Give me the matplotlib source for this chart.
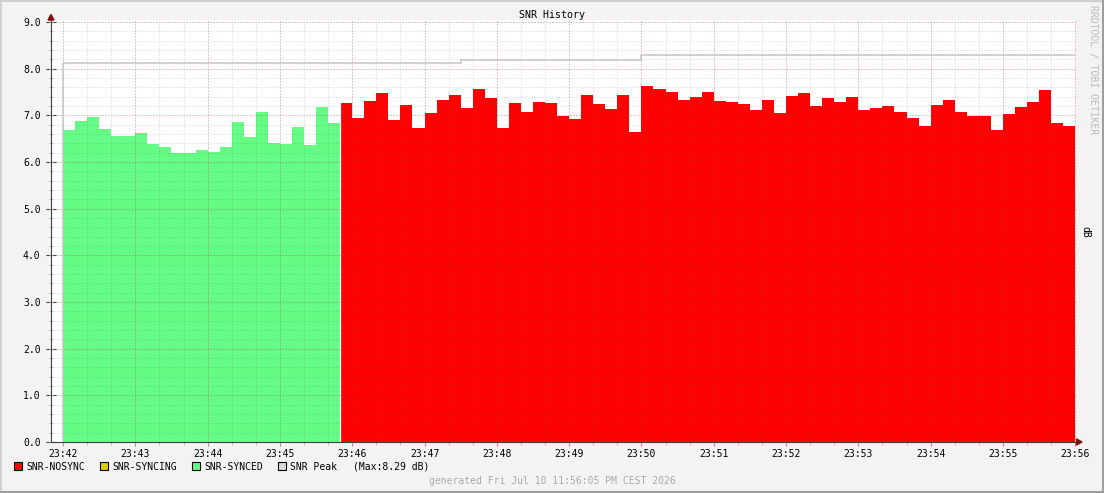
import numpy as np
import matplotlib
matplotlib.use('Agg')
import matplotlib.pyplot as plt
from matplotlib.patches import Rectangle, Polygon
from matplotlib.lines import Line2D

# ---------------------------------------------------------------
# dados (amostras de 10 s a partir das 23:42)
# ---------------------------------------------------------------
step_min = 10 / 60.0

snr_synced = [6.69, 6.88, 6.96, 6.71, 6.56, 6.56, 6.62, 6.39, 6.32, 6.19,
              6.19, 6.26, 6.21, 6.32, 6.86, 6.54, 7.07, 6.41, 6.39, 6.75,
              6.36, 7.18, 6.84]

snr_nosync = [7.26, 6.94, 7.31, 7.48, 6.90, 7.22, 6.73, 7.05, 7.33, 7.44,
              7.16, 7.56, 7.37, 6.73, 7.26, 7.07, 7.29, 7.26, 6.99, 6.92,
              7.44, 7.24, 7.14, 7.44, 6.64, 7.63, 7.56, 7.50, 7.33, 7.39,
              7.50, 7.31, 7.29, 7.24, 7.11, 7.33, 7.05, 7.41, 7.48, 7.20,
              7.37, 7.29, 7.39, 7.11, 7.16, 7.20, 7.07, 6.94, 6.77, 7.22,
              7.33, 7.07, 6.99, 6.99, 6.69, 7.03, 7.18, 7.29, 7.54, 6.84,
              6.77]

# pico (minutos desde 23:42 onde o valor muda)
peak_edges = [0.0, 5.5, 8.0, 14.0]
peak_values = [8.12, 8.19, 8.29]

time_labels = ['23:42', '23:43', '23:44', '23:45', '23:46', '23:47', '23:48',
               '23:49', '23:50', '23:51', '23:52', '23:53', '23:54', '23:55',
               '23:56']

legend_labels = ['SNR-NOSYNC', 'SNR-SYNCING', 'SNR-SYNCED', 'SNR Peak']

c_nosync = '#FF0000'
c_syncing = '#DDCC00'
c_synced = '#64FC84'
c_peak = '#C8C8C8'

W, H = 1104, 493
MONO = 'DejaVu Sans Mono'
plt.rcParams['font.family'] = MONO


def fx(px):
    return px / W


def fy(py):
    return 1 - py / H


fig = plt.figure(figsize=(W / 100, H / 100), dpi=100, facecolor='#F3F3F3')

ax = fig.add_axes([fx(51), fy(442), fx(1076) - fx(51), fy(20) - fy(442)])
ax.set_facecolor('white')

n_syn = len(snr_synced)
edges_syn = np.arange(n_syn + 1) * step_min
edges_nos = (n_syn + np.arange(len(snr_nosync) + 1)) * step_min

ax.stairs(snr_synced, edges_syn, fill=True, baseline=0, color=c_synced, lw=0)
ax.stairs(snr_nosync, edges_nos, fill=True, baseline=0, color=c_nosync, lw=0)
ax.axvline(edges_nos[0], color='white', lw=0.9, zorder=1.5)

ax.stairs(peak_values, peak_edges, baseline=None, color=c_peak, lw=1.2, zorder=3)
ax.vlines(peak_edges[0], 0, peak_values[0], color=c_peak, lw=1.2, zorder=3)

ax.set_xlim((51 - 63) / 72.3, (1076 - 63) / 72.3)
ax.set_ylim(0, 9.0 + 2 / 46.67)

ax.xaxis.remove_overlapping_locs = False
ax.yaxis.remove_overlapping_locs = False
ax.set_xticks(np.arange(len(time_labels)))
ax.set_xticklabels(time_labels)
ax.set_xticks(np.arange(0, len(time_labels) - 0.9, 1 / 3.0), minor=True)
ax.set_yticks(np.arange(0, 9.01, 1.0))
ax.set_yticklabels([f'{v:.1f}' for v in np.arange(0, 9.01, 1.0)])
ax.set_yticks(np.arange(0, 9.01, 0.2), minor=True)

ax.set_axisbelow(False)
ax.grid(True, which='minor', color='#707070', alpha=0.32, lw=0.72, ls=(0, (1, 2)))
ax.grid(True, which='major', color='#FF0000', alpha=0.32, lw=0.72, ls=(0, (1, 2)))

for s in ['top', 'right']:
    ax.spines[s].set_visible(False)
for s in ['left', 'bottom']:
    ax.spines[s].set_color('#404040')
    ax.spines[s].set_linewidth(0.8)
    ax.spines[s].set_zorder(4)

ax.tick_params(axis='x', which='major', direction='out', length=3, color='#E06060',
               labelsize=7, pad=2)
ax.tick_params(axis='x', which='minor', direction='out', length=2, color='#B0B0B0')
ax.tick_params(axis='y', which='major', direction='inout', length=7, color='#404040',
               labelsize=7, pad=4)
ax.tick_params(axis='y', which='minor', direction='inout', length=3, color='#B0B0B0')

# setas dos eixos
fig.patches.append(Polygon([[fx(48), fy(20)], [fx(54), fy(20)], [fx(51), fy(14.5)]],
                           closed=True, transform=fig.transFigure, color='#801010'))
fig.patches.append(Polygon([[fx(1076.5), fy(439)], [fx(1076.5), fy(445)], [fx(1082), fy(442)]],
                           closed=True, transform=fig.transFigure, color='#801010'))

# textos
fig.text(fx(552), fy(15), 'SNR History', ha='center', va='center', fontsize=7.2)
fig.text(fx(1093), fy(70), 'RRDTOOL / TOBI OETIKER', ha='center', va='center',
         rotation=270, fontsize=7, color='#BBBBBB')
fig.text(fx(1085), fy(232), 'dB', ha='center', va='center', rotation=270, fontsize=7)

# legenda
leg_sq = [13.5, 99.5, 191.5, 277.5]
leg_col = [c_nosync, c_syncing, c_synced, '#D8D8D8']
for xs, col, lab in zip(leg_sq, leg_col, legend_labels):
    fig.patches.append(Rectangle((fx(xs), fy(470)), fx(8), 8 / H, transform=fig.transFigure,
                                 facecolor=col, edgecolor='black', lw=0.8))
    fig.text(fx(xs + 12.5), fy(466.5), lab, ha='left', va='center', fontsize=7)
fig.text(fx(353), fy(466.5), f'(Max:{max(peak_values):.2f} dB)', ha='left', va='center',
         fontsize=7)

fig.text(fx(552), fy(481), 'generated Fri Jul 10 11:56:05 PM CEST 2026', ha='center',
         va='center', fontsize=7, color='#AAAAAA')

# moldura 3D
fig.lines.append(Line2D([0, 1], [fy(0.75), fy(0.75)], transform=fig.transFigure,
                        color='#CFCFCF', lw=1.5))
fig.lines.append(Line2D([fx(0.75), fx(0.75)], [0, 1], transform=fig.transFigure,
                        color='#CFCFCF', lw=1.5))
fig.lines.append(Line2D([0, 1], [fy(491.5), fy(491.5)], transform=fig.transFigure,
                        color='#9E9E9E', lw=2.2))
fig.lines.append(Line2D([fx(1102.5), fx(1102.5)], [0, 1], transform=fig.transFigure,
                        color='#9E9E9E', lw=2.2))

fig.savefig('out.png', dpi=100, facecolor=fig.get_facecolor())
